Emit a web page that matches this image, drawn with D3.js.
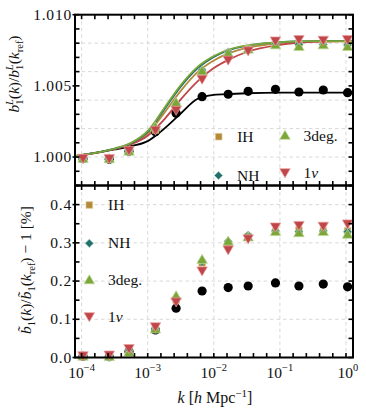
<!DOCTYPE html>
<html><head><meta charset="utf-8">
<script src="https://cdn.jsdelivr.net/npm/d3@7"></script>
<style>
html,body{margin:0;padding:0;background:#fff;}
svg{display:block;}
text{font-family:"Liberation Serif","DejaVu Serif",serif;fill:#111;}
</style></head>
<body>
<svg id="c" width="366" height="414"></svg>
<script>
// ---- data ----
const seriesNames = ["IH", "NH", "3deg.", "1ν"];
const kPoints = [1.05e-4, 2.62e-4, 5.21e-4, 1.31e-3, 2.69e-3, 6.65e-3, 1.65e-2, 3.31e-2, 8.57e-2, 0.194, 0.453, 1.057];
// upper panel markers: b1^L(k)/b1^L(kref)
const upIH   = [0.99990, 0.99988, 1.00042, 1.00190, 1.00358, 1.00600, 1.00731, 1.00759, 1.00787, 1.00792, 1.00792, 1.00792];
const upNH   = [0.99990, 0.99988, 1.00042, 1.00195, 1.00375, 1.00611, 1.00738, 1.00759, 1.00794, 1.00791, 1.00791, 1.00787];
const up3deg = [0.99989, 0.99987, 1.00040, 1.00210, 1.00382, 1.00604, 1.00729, 1.00757, 1.00787, 1.00775, 1.00787, 1.00775];
const up1nu  = [0.99992, 0.99990, 1.00048, 1.00190, 1.00330, 1.00548, 1.00682, 1.00747, 1.00817, 1.00827, 1.00822, 1.00827];
const upNone = [0.99988, 0.99984, 1.00040, 1.00178, 1.00307, 1.00424, 1.00441, 1.00462, 1.00476, 1.00457, 1.00471, 1.00452];
// upper panel curves
const kCurve = [7.94e-5, 3.16e-4, 5.62e-4, 1.0e-3, 1.78e-3, 3.16e-3, 5.62e-3, 1.0e-2, 1.78e-2, 3.16e-2, 0.1, 0.316, 1.26];
const curveIH   = [1.00007, 1.00058, 1.00093, 1.00165, 1.00310, 1.00465, 1.00595, 1.00678, 1.00733, 1.00767, 1.00800, 1.00811, 1.00813];
const curveNH   = [1.00007, 1.00059, 1.00097, 1.00176, 1.00335, 1.00495, 1.00622, 1.00703, 1.00754, 1.00781, 1.00807, 1.00814, 1.00815];
const curve3deg = [1.00007, 1.00060, 1.00100, 1.00183, 1.00344, 1.00506, 1.00632, 1.00710, 1.00759, 1.00784, 1.00808, 1.00815, 1.00815];
const curve1nu  = [1.00008, 1.00056, 1.00090, 1.00150, 1.00265, 1.00405, 1.00530, 1.00625, 1.00690, 1.00738, 1.00788, 1.00810, 1.00817];
const curveNone = [1.00007, 1.00053, 1.00077, 1.00112, 1.00200, 1.00306, 1.00408, 1.00436, 1.00443, 1.00448, 1.00452, 1.00452, 1.00452];
// lower panel markers: b~1(k)/b~1(kref) - 1 [%]
const lowIH   = [0.004, 0.003, 0.020, 0.074, 0.150, 0.247, 0.298, 0.317, 0.329, 0.333, 0.331, 0.331];
const lowNH   = [0.004, 0.003, 0.020, 0.074, 0.155, 0.251, 0.304, 0.320, 0.331, 0.329, 0.331, 0.329];
const low3deg = [0.003, 0.002, 0.013, 0.074, 0.161, 0.256, 0.304, 0.315, 0.329, 0.326, 0.329, 0.322];
const low1nu  = [0.005, 0.007, 0.024, 0.081, 0.146, 0.227, 0.282, 0.311, 0.342, 0.346, 0.344, 0.350];
const lowNone = [0.003, 0.002, 0.016, 0.072, 0.129, 0.174, 0.183, 0.187, 0.195, 0.187, 0.192, 0.185];
const upTickLabels = ["1.000", "1.005", "1.010"];
const lowTickLabels = ["0.0", "0.1", "0.2", "0.3", "0.4"];
const xTickExps = ["−4", "−3", "−2", "−1", "0"];

// ---- styles ----
const colors = {"IH":"#B28A3A", "NH":"#21706B", "3deg.":"#7BA63A", "1ν":"#C0464A", "none":"#000"};
const strokeLight = {"IH":"#E0C890", "NH":"#8FC0BA", "3deg.":"#C2DA98", "1ν":"#E8A0A0"};

const svg = d3.select("#c");
const L = 75, R = 353, T1 = 14.7, B1 = 185.5, T2 = 185.5, B2 = 357.5;
const x = d3.scaleLog().domain([Math.pow(10,-4.1), Math.pow(10,0.106)]).range([L, R]);
const yU = d3.scaleLinear().domain([0.998, 1.010]).range([B1, T1]);
const yL = d3.scaleLinear().domain([0, 0.45]).range([B2, T2]);

const gridC = "#d4d4d4";
// grid lines
const decades = [1e-4, 1e-3, 1e-2, 1e-1, 1];
function grid(y, yTop, yBot, vals) {
  svg.append("g").selectAll("line").data(vals).join("line")
    .attr("x1", L).attr("x2", R).attr("y1", d => y(d)).attr("y2", d => y(d))
    .attr("stroke", gridC).attr("stroke-width", 0.9).attr("stroke-dasharray", "3.5,3");
  svg.append("g").selectAll("line").data(decades).join("line")
    .attr("x1", d => x(d)).attr("x2", d => x(d)).attr("y1", yTop).attr("y2", yBot)
    .attr("stroke", gridC).attr("stroke-width", 0.9).attr("stroke-dasharray", "3.5,3");
}
grid(yU, T1, B1, [1.000, 1.002, 1.004, 1.006, 1.008]);
grid(yL, T2, B2, [0.1, 0.2, 0.3, 0.4]);

// curves
const seriesUp = [
  {n:"none", c:curveNone, m:upNone},
  {n:"IH", c:curveIH, m:upIH},
  {n:"NH", c:curveNH, m:upNH},
  {n:"3deg.", c:curve3deg, m:up3deg},
  {n:"1ν", c:curve1nu, m:up1nu}
];
const seriesLow = [
  {n:"none", m:lowNone}, {n:"IH", m:lowIH}, {n:"NH", m:lowNH}, {n:"3deg.", m:low3deg}, {n:"1ν", m:low1nu}
];
const clipU = svg.append("clipPath").attr("id","cu").append("rect").attr("x",L).attr("y",T1).attr("width",R-L).attr("height",B1-T1);
const line = d3.line().x(d => x(d[0])).y(d => yU(d[1])).curve(d3.curveMonotoneX);
const curveOrder = ["none","IH","1ν","NH","3deg."];
curveOrder.forEach(n => {
  const s = seriesUp.find(d => d.n === n);
  svg.append("path").attr("d", line(kCurve.map((k,i) => [k, s.c[i]])))
    .attr("fill","none").attr("stroke", colors[n]).attr("stroke-width", 1.8)
    .attr("clip-path","url(#cu)");
});

// markers
function marker(g, n, cx, cy) {
  if (n === "none") {
    g.append("circle").attr("cx", cx).attr("cy", cy).attr("r", 4.6).attr("fill", "#000");
    return;
  }
  let p;
  if (n === "IH") p = d3.symbol().type(d3.symbolSquare).size(44)();
  else if (n === "NH") p = d3.symbol().type(d3.symbolSquare).size(34)();
  else p = d3.symbol().type(d3.symbolTriangle).size(48)();
  let tr = `translate(${cx},${cy})`;
  if (n === "NH") tr += " rotate(45)";
  if (n === "1ν") tr += " rotate(180)";
  if (n === "3deg.") tr += " translate(0,0.8)";
  if (n === "1ν") tr += " translate(0,0.8)";
  g.append("path").attr("d", p).attr("transform", tr)
    .attr("fill", colors[n]).attr("stroke", strokeLight[n]).attr("stroke-width", 0.7);
}
const gmU = svg.append("g");
seriesUp.forEach(s => kPoints.forEach((k,i) => marker(gmU, s.n, x(k), yU(s.m[i]))));
const gmL = svg.append("g");
seriesLow.forEach(s => kPoints.forEach((k,i) => marker(gmL, s.n, x(k), yL(s.m[i]))));

// frames and ticks
function frame(yTop, yBot) {
  svg.append("rect").attr("x", L).attr("y", yTop).attr("width", R-L).attr("height", yBot-yTop)
    .attr("fill","none").attr("stroke","#000").attr("stroke-width", 2);
}
const xTicks = d3.range(-4, 0.01, 0.2).map(e => Math.pow(10, e));
function xTickMarks(yTop, yBot) {
  const g = svg.append("g").attr("stroke","#000").attr("stroke-width",1.6);
  xTicks.forEach(t => {
    g.append("line").attr("x1", x(t)).attr("x2", x(t)).attr("y1", yBot).attr("y2", yBot-4.5);
    g.append("line").attr("x1", x(t)).attr("x2", x(t)).attr("y1", yTop).attr("y2", yTop+4.5);
  });
}
function yTickMarks(y, vals, majors) {
  const g = svg.append("g").attr("stroke","#000").attr("stroke-width",1.6);
  vals.forEach(v => {
    const isMaj = majors.some(m => Math.abs(m - v) < 1e-9);
    g.append("line").attr("x1", L - (isMaj ? 2.5 : 0)).attr("x2", L + 4.5).attr("y1", y(v)).attr("y2", y(v));
    g.append("line").attr("x1", R).attr("x2", R - 4.5).attr("y1", y(v)).attr("y2", y(v));
  });
}
yTickMarks(yU, d3.range(0.998, 1.01001, 0.001), [1.000, 1.005, 1.010]);
yTickMarks(yL, d3.range(0, 0.4501, 0.05), [0, 0.1, 0.2, 0.3, 0.4]);
xTickMarks(T1, B1);
xTickMarks(T2, B2);
frame(T1, B1);
frame(T2, B2);

// tick labels
const FS = 15.5;
svg.append("g").selectAll("text").data(upTickLabels).join("text")
  .attr("x", 72).attr("y", d => yU(+d) + 5.2).attr("text-anchor","end")
  .attr("font-size", FS).attr("letter-spacing", 0.8).text(d => d);
svg.append("g").selectAll("text").data(lowTickLabels).join("text")
  .attr("x", 72).attr("y", d => yL(+d) + 5.2).attr("text-anchor","end")
  .attr("font-size", FS).attr("letter-spacing", 0.8).text(d => d);
xTickExps.forEach((e, i) => {
  const t = svg.append("text").attr("x", x(decades[i]) + (e === "0" ? 2 : 0)).attr("y", 377.5)
    .attr("text-anchor","middle").attr("font-size", FS);
  t.append("tspan").text("10");
  t.append("tspan").attr("font-size", 10.5).attr("dy", -6.5).text(e);
});

// rich text helper
function rich(t, parts) {
  parts.forEach(p => {
    const s = t.append("tspan").text(p.t);
    if (p.it) s.attr("font-style","italic");
    if (p.s) s.attr("font-size", p.s);
    if (p.dy) s.attr("dy", p.dy);
    if (p.dx) s.attr("dx", p.dx);
  });
}
// axis titles
const xl = svg.append("text").attr("x", 215).attr("y", 403).attr("text-anchor","middle").attr("font-size", 16);
rich(xl, [{t:"k", it:1}, {t:" ["}, {t:"h", it:1}, {t:" Mpc"}, {t:"−1", s:11, dy:-6.5}, {t:"]", dy:6.5}]);

const yl1 = svg.append("text").attr("transform","translate(19,74) rotate(-90)").attr("text-anchor","middle").attr("font-size", 15.5);
rich(yl1, [{t:"b", it:1}, {t:"1", s:10.5, dy:3.5}, {t:"L", s:10.5, it:1, dx:-5.5, dy:-10}, {t:"(", dy:6.5},
  {t:"k", it:1}, {t:")/"}, {t:"b", it:1}, {t:"1", s:10.5, dy:3.5}, {t:"L", s:10.5, it:1, dx:-5.5, dy:-10}, {t:"(", dy:6.5},
  {t:"k", it:1}, {t:"ref", s:10.5, dy:3.5}, {t:")", dy:-3.5}]);

const yl2 = svg.append("text").attr("transform","translate(31,270) rotate(-90)").attr("text-anchor","middle").attr("font-size", 15.5);
rich(yl2, [{t:"b\u0303", it:1}, {t:"1", s:10.5, dy:3.5}, {t:"(", dy:-3.5}, {t:"k", it:1}, {t:")/"},
  {t:"b\u0303", it:1}, {t:"1", s:10.5, dy:3.5}, {t:"(", dy:-3.5}, {t:"k", it:1}, {t:"ref", s:10.5, dy:3.5},
  {t:") − 1 [%]", dy:-3.5}]);

// legends
function legendLabel(g, n, lx, ly) {
  const t = g.append("text").attr("x", lx).attr("y", ly).attr("font-size", 15.5);
  if (n === "1ν") { t.append("tspan").text("1"); t.append("tspan").attr("font-style","italic").text("ν"); }
  else t.text(n);
}
const gLegU = svg.append("g");
const legU = [{n:"IH", mx:218.7, my:136.7}, {n:"3deg.", mx:285, my:135.5}, {n:"NH", mx:218.5, my:175.5}, {n:"1ν", mx:285, my:172.5}];
legU.forEach(d => { marker(gLegU, d.n, d.mx, d.my); legendLabel(gLegU, d.n, d.mx + 18.5, d.my + 5); });
const gLegL = svg.append("g");
const legL = [{n:"IH", my:205}, {n:"NH", my:243.3}, {n:"3deg.", my:280}, {n:"1ν", my:316.5}];
legL.forEach(d => { marker(gLegL, d.n, 89.3, d.my); legendLabel(gLegL, d.n, 108, d.my + 5); });
</script>
</body></html>
